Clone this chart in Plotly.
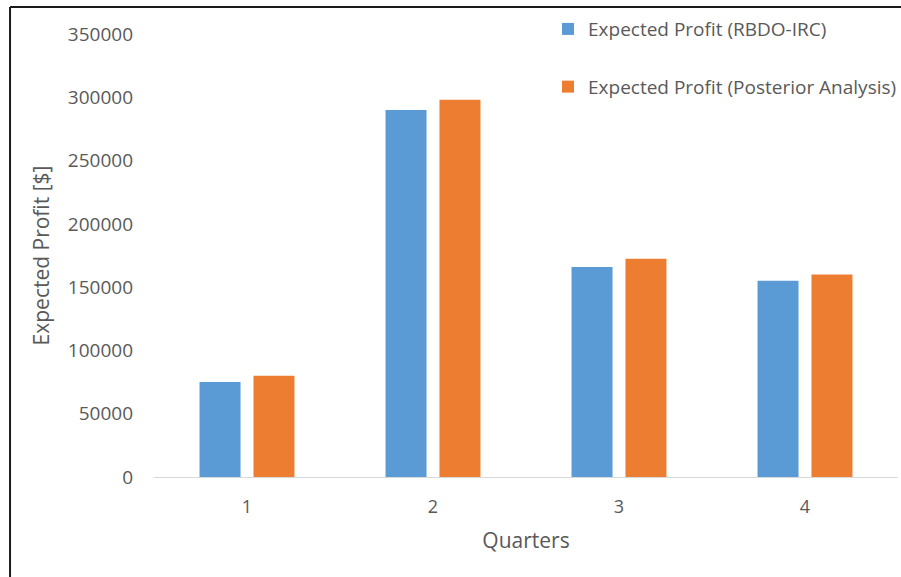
import plotly.graph_objects as go

quarters = ["1", "2", "3", "4"]
profit_rbdo_irc = [75000, 290000, 166000, 155000]
profit_posterior = [80000, 298000, 172500, 160000]
y_ticks = [0, 50000, 100000, 150000, 200000, 250000, 300000, 350000]

FONT = "'Open Sans', Lato, sans-serif"
GRAY = "#595959"

fig = go.Figure()
fig.add_trace(go.Bar(x=quarters, y=profit_rbdo_irc, name="Expected Profit (RBDO-IRC)",
                     marker=dict(color="#5B9BD5", line=dict(width=0)), legendgroup="a"))
fig.add_trace(go.Bar(x=quarters, y=profit_posterior, name="Expected Profit (Posterior Analysis)",
                     marker=dict(color="#ED7D31", line=dict(width=0)), legendgroup="b"))

fig.update_layout(
    width=901, height=577,
    margin=dict(l=154, r=3, t=34, b=100, autoexpand=False),
    paper_bgcolor="white", plot_bgcolor="white",
    barmode="group", bargap=0.42, bargroupgap=0.24,
    font=dict(family=FONT, color=GRAY, size=19),
    showlegend=True,
    legend=dict(x=0.5296, y=1.054, xanchor="left", yanchor="top",
                traceorder="grouped", tracegroupgap=30,
                font=dict(size=19, color=GRAY), bgcolor="rgba(0,0,0,0)",
                itemwidth=30),
    xaxis=dict(type="category", showline=True, linecolor="#D9D9D9", linewidth=1,
               showgrid=False, ticks="", ticklabelstandoff=13,
               tickfont=dict(size=18, color=GRAY),
               title=dict(text="Quarters", font=dict(size=21, color=GRAY), standoff=16)),
    yaxis=dict(range=[0, 350000], tickvals=y_ticks, ticktext=[str(v) for v in y_ticks],
               showline=False, showgrid=False, zeroline=False, ticks="",
               ticklabelstandoff=20, tickfont=dict(size=19, color=GRAY),
               title=dict(text="Expected Profit [$]", font=dict(size=21, color=GRAY), standoff=12)),
    shapes=[
        dict(type="line", xref="paper", yref="paper", x0=-0.1935, x1=1.1, y0=1.061, y1=1.061,
             line=dict(color="#1a1a1a", width=2)),
        dict(type="line", xref="paper", yref="paper", x0=-0.1935, x1=-0.1935, y0=1.061, y1=-0.3,
             line=dict(color="#1a1a1a", width=2)),
    ],
)

fig.write_html("out.html", config={"displayModeBar": False},
               post_script="document.body.style.margin='0';")
